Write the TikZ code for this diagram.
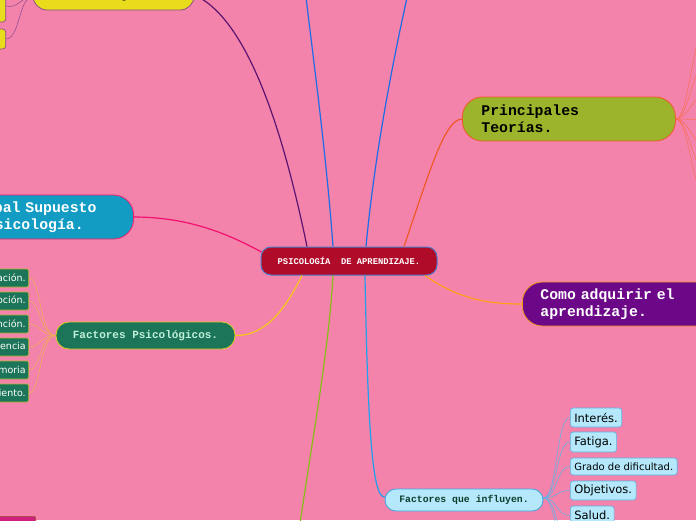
\documentclass[tikz,border=0pt]{standalone}
\usepackage{fontspec}
\setmainfont{DejaVu Sans}
\setmonofont{Liberation Mono}
\definecolor{bgc}{HTML}{F383AB}
\definecolor{cenF}{HTML}{B00C2A}
\definecolor{cenB}{HTML}{4A7AC8}
\definecolor{supF}{HTML}{129CC4}
\definecolor{supB}{HTML}{F0206E}
\definecolor{ptF}{HTML}{9CB42C}
\definecolor{ptB}{HTML}{F05A28}
\definecolor{coF}{HTML}{6C0888}
\definecolor{coB}{HTML}{F09A20}
\definecolor{fpF}{HTML}{1C7558}
\definecolor{fpB}{HTML}{D8D020}
\definecolor{fpT}{HTML}{C0F0DC}
\definecolor{lgB}{HTML}{A8B830}
\definecolor{fiF}{HTML}{B4E8FA}
\definecolor{fiB}{HTML}{3AA6E6}
\definecolor{fiT}{HTML}{0E3E2E}
\definecolor{yeF}{HTML}{E8DC1C}
\definecolor{yeB}{HTML}{8A5080}
\definecolor{mgF}{HTML}{D0207F}
\definecolor{mgB}{HTML}{A05030}
\definecolor{cPur}{HTML}{5C1470}
\definecolor{cBlu}{HTML}{1E6CE8}
\definecolor{cRed}{HTML}{F05A28}
\definecolor{cPnk}{HTML}{F01070}
\definecolor{cOra}{HTML}{FFA018}
\definecolor{cYel}{HTML}{F4C818}
\definecolor{cGrn}{HTML}{88BC18}
\definecolor{cCya}{HTML}{1EA0EE}
\definecolor{sOra}{HTML}{F0B050}
\definecolor{sRed}{HTML}{F87050}
\definecolor{sCya}{HTML}{5AB4E8}
\definecolor{sPur}{HTML}{8A4A90}
\newcommand\monofont[2]{\ttfamily\bfseries\fontsize{#1}{#2}\selectfont\spaceskip=0.6em\relax}
\begin{document}
\begin{tikzpicture}[x=1pt,y=-1pt,
  conn/.style={line width=1.2pt},
  subc/.style={line width=0.5pt},
  central/.style={draw=cenB, fill=cenF, line width=1pt, rounded corners=10pt,
    minimum width=176pt, minimum height=28pt, inner sep=0pt, text=white,
    font=\monofont{8.8}{10}},
  bigbox/.style={line width=0.8pt, inner ysep=0pt, minimum height=44pt,
    rounded corners=20pt, align=left, font=\monofont{14.8}{17}},
  lgbox/.style={anchor=east, fill=fpF, draw=lgB, line width=0.6pt, rounded corners=2pt,
    minimum height=18pt, inner xsep=3pt, inner ysep=0pt, text=white,
    font=\fontsize{9.5}{11}\selectfont},
  rcbox/.style={anchor=west, fill=fiF, draw=sCya, line width=0.6pt, rounded corners=3pt,
    minimum height=19pt, inner xsep=4pt, inner ysep=0pt, text=black,
    font=\fontsize{11.5}{13}\selectfont},
  ybox/.style={anchor=east, fill=yeF, draw=yeB, line width=0.7pt, rounded corners=3pt,
    minimum width=40pt, inner sep=0pt}
]
\fill[bgc] (0,0) rectangle (696,520);
\useasboundingbox (0,0) rectangle (696,520);

% main nodes
\node[central] (c) at (349,261) {PSICOLOGÍA\ \ DE APRENDIZAJE.};
\node[bigbox, fill=ptF, draw=ptB, anchor=west, text width=175pt, inner xsep=19pt, text=black]
  (pt) at (462,119) {Principales\\Teorías.};
\node[bigbox, fill=coF, draw=coB, anchor=west, text width=184pt, inner xsep=18pt, text=white]
  (co) at (522,304) {Como adquirir el\\aprendizaje.};
\node[bigbox, fill=supF, draw=supB, anchor=east, text width=174pt, inner xsep=19pt, text=white]
  (sp) at (134,217) {Principal Supuesto\\de la Psicología.};
\node[fill=yeF, draw=yeB, line width=0.8pt, rounded corners=14pt, minimum width=161pt,
  minimum height=30pt, inner sep=0pt, font=\monofont{12}{14}]
  (pc) at (113.5,-5) {Proceso Cognitivo.};
\node[fill=fpF, draw=fpB, line width=0.8pt, rounded corners=13pt, minimum width=179pt,
  minimum height=27pt, inner sep=0pt, text=fpT, font=\monofont{11}{13}]
  (fp) at (145.5,335.5) {Factores Psicológicos.};
\node[fill=fiF, draw=fiB, line width=0.8pt, rounded corners=11pt, minimum width=158pt,
  minimum height=22pt, inner sep=0pt, text=fiT, font=\monofont{9.8}{11}]
  (fi) at (464,500) {Factores que influyen.};
\node[fill=mgF, draw=mgB, line width=0.7pt, rounded corners=2pt, anchor=north east,
  minimum width=80pt, minimum height=30pt, inner sep=0pt] (mg) at (36,516) {};

% small yellow boxes
\node[ybox, minimum height=26pt] (y1) at (6,9) {};
\node[ybox, minimum height=20pt] (y2) at (6,39) {};

% left children of Factores Psicologicos
\node[lgbox] (l1) at (29,278) {Motivación.};
\node[lgbox] (l2) at (29,301) {Percepción.};
\node[lgbox] (l3) at (29,324) {Atención.};
\node[lgbox] (l4) at (29,347) {Inteligencia};
\node[lgbox] (l5) at (29,370) {Memoria};
\node[lgbox] (l6) at (29,393) {Pensamiento.};

% right children of Factores que influyen
\node[rcbox] (r1) at (570,417.5) {Interés.};
\node[rcbox, minimum height=20pt] (r2) at (570,442) {Fatiga.};
\node[rcbox, minimum height=17pt, font=\fontsize{10}{12}\selectfont] (r3) at (570,466.5) {Grado de dificultad.};
\node[rcbox] (r4) at (570,490.5) {Objetivos.};
\node[rcbox] (r5) at (570,515.5) {Salud.};

% free ends
\coordinate (t1) at (304,-20);
\coordinate (t2) at (411,-20);
\coordinate (gb) at (297,545);
\coordinate (r6) at (570,540);
\coordinate (r7) at (570,562);
\foreach \i/\yy in {1/20,2/58,3/92,4/120,5/148,6/176,7/204}{\coordinate (p\i) at (712,\yy);}

% main connectors
\draw[conn, cPur] ([xshift=-42pt]c.north) .. controls (285,140) and (250,20) .. (pc.east);
\draw[conn, cBlu] ([xshift=-16pt]c.north) .. controls (326,150) and (312,50) .. (t1);
\draw[conn, cBlu] ([xshift=17pt]c.north) .. controls (375,150) and (395,50) .. (t2);
\draw[conn, cRed] ([xshift=55pt]c.north) .. controls (430,170) and (445,119) .. (pt.west);
\draw[conn, cPnk] ([xshift=1pt,yshift=9pt]c.west) .. controls (230,235) and (190,217) .. (sp.east);
\draw[conn, cOra] ([xshift=76pt]c.south) .. controls (460,300) and (490,304) .. (co.west);
\draw[conn, cYel] ([xshift=-47pt]c.south) .. controls (285,310) and (265,336) .. (fp.east);
\draw[conn, cGrn] ([xshift=-16pt]c.south) .. controls (328,360) and (310,450) .. (gb);
\draw[conn, cCya] ([xshift=16pt]c.south) .. controls (368,440) and (373,497) .. ([yshift=3pt]fi.west);

% sub connectors
\foreach \n in {l1,l2,l3,l4,l5,l6}{
  \draw[subc, sOra] (fp.west) .. controls +(-16,0) and ([xshift=12pt]\n.east) .. (\n.east);}
\foreach \n in {r1,r2,r3,r4,r5,r6,r7}{
  \draw[subc, sCya] ([yshift=2pt]fi.east) .. controls +(14,0) and ([xshift=-14pt]\n.west) .. (\n.west);}
\foreach \i in {1,...,7}{
  \draw[subc, sRed] (pt.east) .. controls +(14,0) and ([xshift=-20pt]p\i) .. (p\i);}
\draw[subc, sPur] ([yshift=-2pt]pc.west) .. controls +(-12,0) and ([xshift=12pt]y1.east) .. ([yshift=3pt]y1.east);
\draw[subc, sPur] ([yshift=-2pt]pc.west) .. controls +(-14,0) and ([xshift=14pt]y2.east) .. (y2.east);
\end{tikzpicture}
\end{document}
